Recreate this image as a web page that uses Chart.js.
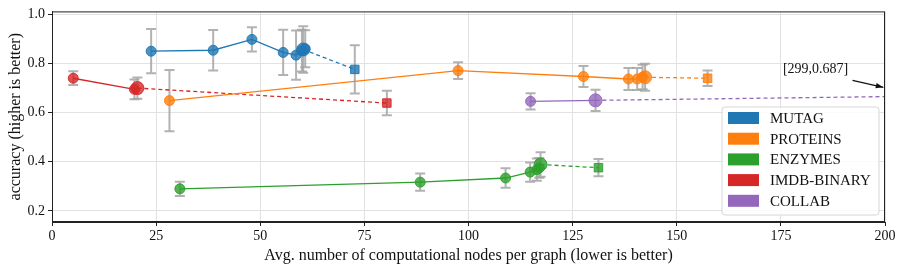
<!DOCTYPE html>
<html>
<head>
<meta charset="utf-8">
<script src="https://cdn.jsdelivr.net/npm/chart.js@4"></script>
<style>
  html, body { margin: 0; padding: 0; background: #fff; }
  #wrap { width: 905px; height: 271px; }
</style>
</head>
<body>
<div id="wrap"><canvas id="accChart" width="905" height="271"></canvas></div>
<script>
// ---- data (last entry of each group = baseline square) ----
const groupNames = ['MUTAG', 'PROTEINS', 'ENZYMES', 'IMDB-BINARY', 'COLLAB'];
const groupColors = ['#1f77b4', '#ff7f0e', '#2ca02c', '#d62728', '#9467bd'];

const mutagX = [23.8, 38.7, 48.0, 55.5, 58.6, 60.0, 60.8, 60.3, 72.7];
const mutagY = [0.850, 0.854, 0.898, 0.845, 0.834, 0.852, 0.860, 0.857, 0.776];
const mutagErr = [0.090, 0.082, 0.049, 0.092, 0.100, 0.085, 0.075, 0.095, 0.098];

const proteinsX = [28.2, 97.5, 127.6, 138.4, 140.5, 141.8, 142.4, 157.4];
const proteinsY = [0.649, 0.771, 0.747, 0.737, 0.737, 0.745, 0.744, 0.740];
const proteinsErr = [0.125, 0.034, 0.043, 0.045, 0.045, 0.050, 0.055, 0.032];

const enzymesX = [30.7, 88.4, 108.9, 114.8, 116.4, 117.0, 117.3, 131.2];
const enzymesY = [0.290, 0.317, 0.334, 0.358, 0.368, 0.375, 0.389, 0.376];
const enzymesErr = [0.029, 0.035, 0.040, 0.039, 0.045, 0.040, 0.050, 0.035];

const imdbX = [5.1, 19.8, 20.5, 80.4];
const imdbY = [0.740, 0.695, 0.700, 0.639];
const imdbErr = [0.028, 0.040, 0.043, 0.050];

const collabX = [114.9, 130.5, 299];
const collabY = [0.646, 0.650, 0.687];
const collabErr = [0.033, 0.043, null];

const xTicks = [0, 25, 50, 75, 100, 125, 150, 175, 200];
const yTicks = [0.2, 0.4, 0.6, 0.8, 1.0];
const offChartLabel = '[299,0.687]';

const FONT = '"Liberation Serif", "DejaVu Serif", serif';

function toPoints(xs, ys, errs) {
    return xs.map((x, i) => ({ x, y: ys[i], err: errs[i] }));
}

function fade(hex, a) {
    const n = parseInt(hex.slice(1), 16);
    return `rgba(${(n >> 16) & 255},${(n >> 8) & 255},${n & 255},${a})`;
}

const groups = [
    toPoints(mutagX, mutagY, mutagErr),
    toPoints(proteinsX, proteinsY, proteinsErr),
    toPoints(enzymesX, enzymesY, enzymesErr),
    toPoints(imdbX, imdbY, imdbErr),
    toPoints(collabX, collabY, collabErr),
];

const datasets = groups.map((pts, g) => {
    const last = pts.length - 1;
    return {
        label: groupNames[g],
        data: pts,
        showLine: true,
        borderColor: groupColors[g],
        backgroundColor: fade(groupColors[g], 0.85),
        borderWidth: 1.3,
        pointBorderWidth: 1,
        pointBorderColor: fade(groupColors[g], 0.9),
        pointBackgroundColor: fade(groupColors[g], 0.8),
        pointStyle: c => c.dataIndex === last ? 'rect' : 'circle',
        pointRadius: c => c.dataIndex === last ? 6 : (c.dataIndex === last - 1 ? 6.5 : 5),
        segment: { borderDash: c => c.p1DataIndex === last ? [4, 3] : undefined },
    };
});

// vertical error bars with caps, drawn under the markers
const errorBars = {
    id: 'errorBars',
    beforeDatasetsDraw(chart) {
        const { ctx, chartArea: a, scales: { x, y } } = chart;
        ctx.save();
        ctx.beginPath(); ctx.rect(a.left, a.top, a.width, a.height); ctx.clip();
        ctx.strokeStyle = 'rgba(165,165,165,0.85)';
        ctx.lineWidth = 2;
        chart.data.datasets.forEach(ds => ds.data.forEach(p => {
            if (p.err == null) return;
            const px = x.getPixelForValue(p.x);
            const y0 = y.getPixelForValue(p.y - p.err), y1 = y.getPixelForValue(p.y + p.err);
            ctx.beginPath();
            ctx.moveTo(px, y0); ctx.lineTo(px, y1);
            ctx.moveTo(px - 5, y0); ctx.lineTo(px + 5, y0);
            ctx.moveTo(px - 5, y1); ctx.lineTo(px + 5, y1);
            ctx.stroke();
        }));
        ctx.restore();
    }
};

// frame, off-chart annotation and legend
const decorations = {
    id: 'decorations',
    afterDraw(chart) {
        const { ctx, chartArea: a, scales: { x, y } } = chart;
        ctx.save();
        ctx.strokeStyle = '#222'; ctx.lineWidth = 1;
        ctx.strokeRect(a.left + 0.5, a.top + 0.5, a.width - 1, a.height - 1);

        // annotation for the COLLAB baseline off the right edge
        ctx.fillStyle = '#111';
        ctx.font = '14px ' + FONT;
        ctx.textBaseline = 'middle'; ctx.textAlign = 'left';
        ctx.fillText(offChartLabel, x.getPixelForValue(175.5), y.getPixelForValue(0.776));
        const ax0 = x.getPixelForValue(192.2), ay0 = y.getPixelForValue(0.731);
        const ax1 = x.getPixelForValue(199.6), ay1 = y.getPixelForValue(0.703);
        const ang = Math.atan2(ay1 - ay0, ax1 - ax0);
        ctx.strokeStyle = '#111'; ctx.lineWidth = 1.2;
        ctx.beginPath(); ctx.moveTo(ax0, ay0); ctx.lineTo(ax1, ay1); ctx.stroke();
        ctx.beginPath();
        ctx.moveTo(ax1, ay1);
        ctx.lineTo(ax1 - 8 * Math.cos(ang - 0.35), ay1 - 8 * Math.sin(ang - 0.35));
        ctx.lineTo(ax1 - 8 * Math.cos(ang + 0.35), ay1 - 8 * Math.sin(ang + 0.35));
        ctx.closePath(); ctx.fill();

        // legend box
        const lx = a.right - 163, ly = a.bottom - 115, lw = 157, lh = 108;
        ctx.beginPath();
        ctx.roundRect(lx, ly, lw, lh, 3);
        ctx.fillStyle = 'rgba(255,255,255,0.85)'; ctx.fill();
        ctx.strokeStyle = '#d6d6d6'; ctx.lineWidth = 1; ctx.stroke();
        ctx.font = '15px ' + FONT;
        groupNames.forEach((name, i) => {
            const cy = ly + 11 + i * 20.7;
            ctx.fillStyle = groupColors[i];
            ctx.fillRect(lx + 6, cy - 6, 31, 12);
            ctx.fillStyle = '#111';
            ctx.fillText(name, lx + 48, cy + 1);
        });
        ctx.restore();
    }
};

new Chart(document.getElementById('accChart'), {
    type: 'scatter',
    data: { datasets },
    plugins: [errorBars, decorations],
    options: {
        responsive: false,
        animation: false,
        layout: { padding: { top: 9, right: 20, left: 6, bottom: 6 } },
        plugins: { legend: { display: false }, tooltip: { enabled: false } },
        scales: {
            x: {
                type: 'linear', min: 0, max: 200,
                afterBuildTicks: s => { s.ticks = xTicks.map(v => ({ value: v })); },
                afterFit: s => { s.height = 43; },
                ticks: { color: '#111', font: { family: FONT, size: 14 }, padding: 2 },
                grid: { color: '#e2e2e2', tickColor: '#222', tickLength: 4 },
                border: { color: '#222' },
                title: {
                    display: true, text: 'Avg. number of computational nodes per graph (lower is better)',
                    color: '#111', font: { family: FONT, size: 16 }, padding: { top: 0, bottom: 0 }
                }
            },
            y: {
                type: 'linear', min: 0.155, max: 1.012,
                afterBuildTicks: s => { s.ticks = yTicks.map(v => ({ value: v })); },
                afterFit: s => { s.width = 46; },
                ticks: { color: '#111', font: { family: FONT, size: 14 }, padding: 3, callback: v => v.toFixed(1) },
                grid: { color: '#e2e2e2', tickColor: '#222', tickLength: 4 },
                border: { color: '#222' },
                title: {
                    display: true, text: 'accuracy (higher is better)',
                    color: '#111', font: { family: FONT, size: 16 }, padding: { top: 0, bottom: 0 }
                }
            }
        }
    }
});
</script>
</body>
</html>
